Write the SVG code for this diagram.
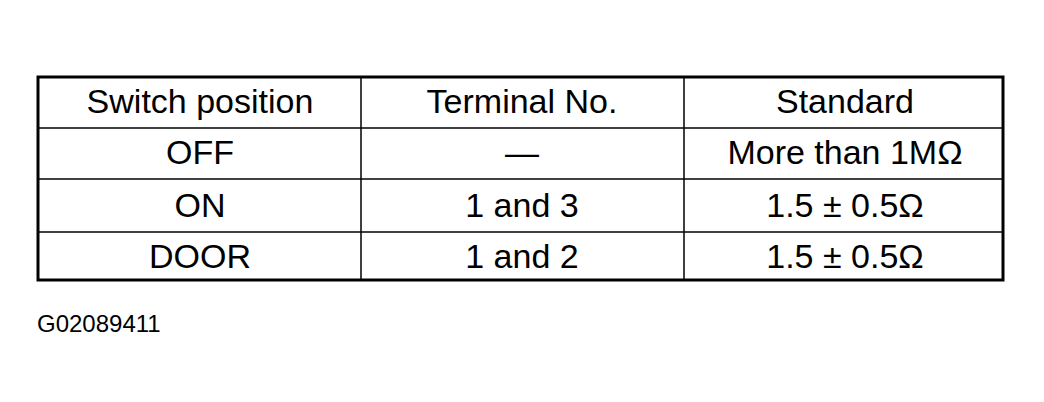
<svg xmlns="http://www.w3.org/2000/svg" width="1044" height="402" viewBox="0 0 1044 402">
<style>
.t{font-family:"Liberation Sans",Arial,sans-serif;font-size:34px;fill:#000;text-anchor:middle}
.l{stroke:#000;stroke-width:1.5;fill:none}
</style>
<rect width="1044" height="402" fill="#fff"/>
<g id="grid">
<rect x="38" y="77" width="965" height="203" fill="none" stroke="#000" stroke-width="3"/>
<line class="l" x1="361" y1="77" x2="361" y2="280"/>
<line class="l" x1="684" y1="77" x2="684" y2="280"/>
<line class="l" x1="38" y1="128" x2="1003" y2="128"/>
<line class="l" x1="38" y1="179" x2="1003" y2="179"/>
<line class="l" x1="38" y1="232" x2="1003" y2="232"/>
</g>
<g id="cells">
<text class="t" x="200" y="113">Switch position</text>
<text class="t" x="522" y="113">Terminal No.</text>
<text class="t" x="845" y="113">Standard</text>
<text class="t" x="200" y="164">OFF</text>
<text class="t" x="522" y="164">—</text>
<text class="t" x="845" y="164">More than 1MΩ</text>
<text class="t" x="200" y="217">ON</text>
<text class="t" x="522" y="217">1 and 3</text>
<text class="t" x="845" y="217">1.5 ± 0.5Ω</text>
<text class="t" x="200" y="268">DOOR</text>
<text class="t" x="522" y="268">1 and 2</text>
<text class="t" x="845" y="268">1.5 ± 0.5Ω</text>
</g>
<text x="37" y="332" font-family="Liberation Sans,Arial,sans-serif" font-size="24" fill="#000">G02089411</text>
</svg>
